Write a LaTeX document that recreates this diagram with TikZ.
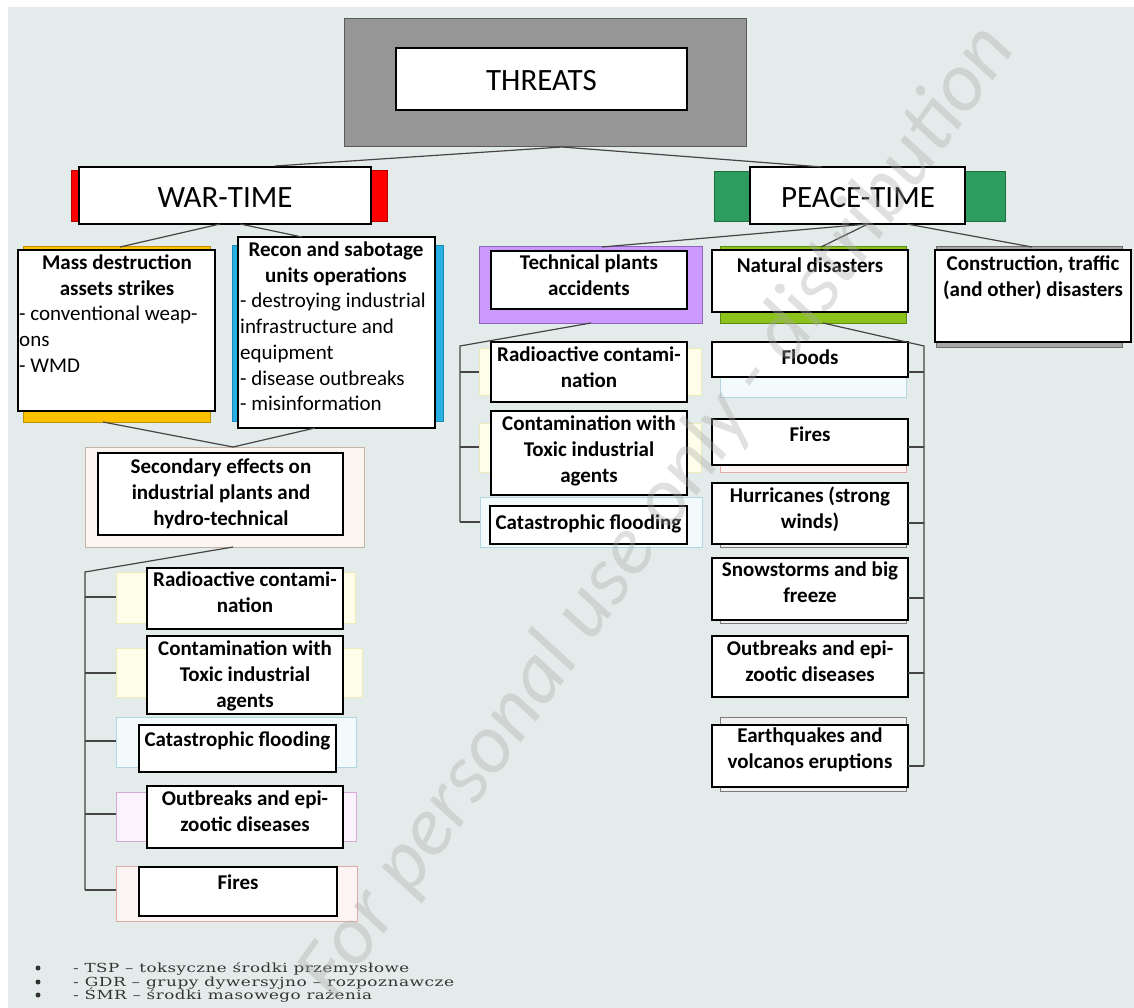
\documentclass[tikz,border=0pt]{standalone}
\usepackage{fontspec}
\setmainfont{Carlito}
\newfontfamily\legfont[LetterSpace=3]{DejaVu Serif}
\usepackage{graphicx}
\definecolor{bgc}{HTML}{E4ECEB}
\definecolor{linec}{HTML}{454545}
\definecolor{tgrayF}{HTML}{969696}\definecolor{tgrayD}{HTML}{5A5A5A}
\definecolor{redF}{HTML}{FF0000}\definecolor{redD}{HTML}{B00000}
\definecolor{pgreenF}{HTML}{2E9B5F}\definecolor{pgreenD}{HTML}{1E6E40}
\definecolor{yelF}{HTML}{FFC000}\definecolor{yelD}{HTML}{C09000}
\definecolor{bluF}{HTML}{29B0E3}\definecolor{bluD}{HTML}{1A88B8}
\definecolor{purF}{HTML}{CC99FF}\definecolor{purD}{HTML}{8E66BB}
\definecolor{ngrF}{HTML}{8CC21C}\definecolor{ngrD}{HTML}{5E8C10}
\definecolor{cgrF}{HTML}{A6A6A6}\definecolor{cgrD}{HTML}{6E6E6E}
\definecolor{secF}{HTML}{FBF7F0}\definecolor{secD}{HTML}{C4B2A2}
\definecolor{ylF}{HTML}{FDFDEA}\definecolor{ylD}{HTML}{EEE9B8}
\definecolor{blF}{HTML}{F2FAFC}\definecolor{blD}{HTML}{B0D6E2}
\definecolor{plF}{HTML}{FBF3FB}\definecolor{plD}{HTML}{D6A9D6}
\definecolor{pkF}{HTML}{FDF5F4}\definecolor{pkD}{HTML}{E3AAA6}
\definecolor{glF}{HTML}{F0F0F0}\definecolor{glD}{HTML}{7A7A7A}
\definecolor{wmc}{HTML}{A8A8A8}
\definecolor{legc}{HTML}{333333}
\newcommand\rbox[6]{\node[#6, anchor=north west, minimum width={#4-#2}, minimum height={#5-#3}] (#1) at (#2,#3) {};}
\newcommand\legline[2]{\resizebox{#1}{\height}{\legfont\fontsize{12.5}{14}\selectfont #2}}
\tikzset{
  wb/.style={draw=black, line width=1.3pt, fill=white, inner sep=0pt, outer sep=0pt},
  bk/.style={line width=1pt, inner sep=0pt, outer sep=0pt},
  conn/.style={draw=linec, line width=1.2pt},
  ttl/.style={font=\fontsize{31}{37}\selectfont, inner sep=0pt, anchor=base},
  hd/.style={font=\fontsize{21}{25.8}\selectfont\bfseries, align=center, inner sep=0pt, anchor=north, execute at begin node={\rule{0pt}{17pt}}},
  ls/.style={font=\fontsize{21}{25.8}\selectfont, align=left, inner sep=0pt, anchor=north west, execute at begin node={\rule{0pt}{17pt}}},
  leg/.style={inner sep=0pt, anchor=base west, text=legc},
  bul/.style={circle, fill=legc, inner sep=0pt, minimum size=5pt},
}
\begin{document}
\begin{tikzpicture}[x=1pt,y=-1pt]
\useasboundingbox (0,0) rectangle (1134,1008);
\fill[bgc] (8,7) rectangle (1134,1008);

% ---------- top ----------
\rbox{tback}{344}{19}{746}{147}{bk, fill=tgrayF, draw=tgrayD}
\rbox{threats}{396}{48}{687}{110}{wb}
\node[ttl] (threatsT) at (541.5,91) {THREATS};

\rbox{warback}{71}{171}{387}{222}{bk, fill=redF, draw=redD}
\rbox{war}{79}{167}{371}{224}{wb}
\node[ttl] (warT) at (225,208) {WAR-TIME};

\rbox{peaceback}{714}{172}{1005}{222}{bk, fill=pgreenF, draw=pgreenD}
\rbox{peace}{750}{167}{965}{224}{wb}
\node[ttl] (peaceT) at (858,208) {PEACE-TIME};

\coordinate (tapex) at (562,147);
\coordinate (warin) at (275,166);
\coordinate (peacein) at (822,167);

% ---------- war-time ----------
\rbox{massback}{23}{247}{210}{422}{bk, fill=yelF, draw=yelD}
\rbox{mass}{18}{250}{215}{411}{wb}
\node[hd] (massH) at (117,255) {Mass destruction\\assets strikes};
\node[ls] (massL) at (19,306) {- conventional weap-\\ons\\- WMD};

\rbox{reconback}{232}{246}{443}{421}{bk, fill=bluF, draw=bluD}
\rbox{recon}{238}{237}{435}{428}{wb}
\node[hd] (reconH) at (336,242) {Recon and sabotage\\units operations};
\node[ls] (reconL) at (240,293) {- destroying industrial\\infrastructure and\\equipment\\- disease outbreaks\\- misinformation};

\rbox{secback}{85}{447}{364}{547}{bk, fill=secF, draw=secD}
\rbox{sec}{98}{453}{343}{535}{wb}
\node[hd] (secT) at (221,459) {Secondary effects on\\industrial plants and\\hydro-technical};

\coordinate (warout1) at (220,224);
\coordinate (warout2) at (240,224);
\coordinate (massin) at (120,247);
\coordinate (reconin) at (302,237);
\coordinate (massout) at (103,422);
\coordinate (reconout) at (315,428);
\coordinate (secin) at (233,447);
\coordinate (secout) at (233,547);
\coordinate (lbus0) at (85,572);
\coordinate (lbus1) at (85,597);
\coordinate (lbus2) at (85,673);
\coordinate (lbus3) at (85,741);
\coordinate (lbus4) at (85,814);
\coordinate (lbus5) at (85,890);

\rbox{rad1back}{116}{572}{355}{623}{bk, fill=ylF, draw=ylD}
\rbox{rad1}{147}{568}{343}{629}{wb}
\node[hd] (rad1T) at (245,572) {Radioactive contami-\\nation};

\rbox{con1back}{116}{648}{362}{697}{bk, fill=ylF, draw=ylD}
\rbox{con1}{147}{636}{343}{714}{wb}
\node[hd] (con1T) at (245,641) {Contamination with\\Toxic industrial\\agents};

\rbox{cat1back}{116}{717}{356}{767}{bk, fill=blF, draw=blD}
\rbox{cat1}{139}{725}{336}{772}{wb}
\node[hd] (cat1T) at (237.5,729) {Catastrophic flooding};

\rbox{out1back}{116}{792}{356}{841}{bk, fill=plF, draw=plD}
\rbox{out1}{147}{786}{343}{848}{wb}
\node[hd] (out1T) at (245,791) {Outbreaks and epi-\\zootic diseases};

\rbox{fir1back}{116}{866}{357}{921}{bk, fill=pkF, draw=pkD}
\rbox{fir1}{139}{867}{337}{916}{wb}
\node[hd] (fir1T) at (238,872) {Fires};

% ---------- peace-time ----------
\rbox{techback}{479}{247}{702}{323}{bk, fill=purF, draw=purD}
\rbox{tech}{491}{251}{687}{309}{wb}
\node[hd] (techT) at (589,255) {Technical plants\\accidents};

\rbox{natback}{720}{247}{906}{323}{bk, fill=ngrF, draw=ngrD}
\rbox{nat}{712}{250}{908}{312}{wb}
\node[hd] (natT) at (810,255) {Natural disasters};

\rbox{consback}{936}{247}{1122}{347}{bk, fill=cgrF, draw=cgrD}
\rbox{cons}{935}{250}{1131}{342}{wb}
\node[hd] (consT) at (1033,256) {Construction, traffic\\(and other) disasters};

\coordinate (peaceout1) at (868,224);
\coordinate (peaceout2) at (907,224);
\coordinate (techin) at (602,247);
\coordinate (natin) at (821,247);
\coordinate (consin) at (1032,247);
\coordinate (techout) at (591,323);
\coordinate (natout) at (823,323);
\coordinate (tbus0) at (460,346);
\coordinate (tbus1) at (460,372);
\coordinate (tbus2) at (460,447);
\coordinate (tbus3) at (460,522);
\coordinate (nbus0) at (924,346);
\coordinate (nbus1) at (924,372);
\coordinate (nbus2) at (924,447);
\coordinate (nbus3) at (924,523);
\coordinate (nbus4) at (924,598);
\coordinate (nbus5) at (924,673);
\coordinate (nbus6) at (924,766);

\rbox{rad2back}{479}{348}{701}{395}{bk, fill=ylF, draw=ylD}
\rbox{rad2}{491}{342}{687}{402}{wb}
\node[hd] (rad2T) at (589,347) {Radioactive contami-\\nation};

\rbox{con2back}{479}{423}{701}{472}{bk, fill=ylF, draw=ylD}
\rbox{con2}{491}{411}{687}{495}{wb}
\node[hd] (con2T) at (589,416) {Contamination with\\Toxic industrial\\agents};

\rbox{cat2back}{480}{497}{702}{547}{bk, fill=blF, draw=blD}
\rbox{cat2}{490}{506}{687}{544}{wb}
\node[hd] (cat2T) at (588.5,512) {Catastrophic flooding};

\rbox{fldback}{720}{342}{906}{397}{bk, fill=blF, draw=blD}
\rbox{fld}{712}{342}{908}{377}{wb}
\node[hd] (fldT) at (810,347) {Floods};

\rbox{fir2back}{720}{419}{906}{472}{bk, fill=pkF, draw=pkD}
\rbox{fir2}{712}{419}{908}{465}{wb}
\node[hd] (fir2T) at (810,424) {Fires};

\rbox{hurback}{720}{483}{906}{547}{bk, fill=glF, draw=glD}
\rbox{hur}{712}{483}{908}{544}{wb}
\node[hd] (hurT) at (810,487) {Hurricanes (strong\\winds)};

\rbox{snowback}{720}{558}{906}{623}{bk, fill=glF, draw=glD}
\rbox{snow}{712}{558}{908}{620}{wb}
\node[hd] (snowT) at (810,562) {Snowstorms and big\\freeze};

\rbox{out2}{712}{636}{908}{697}{wb}
\node[hd] (out2T) at (810,641) {Outbreaks and epi-\\zootic diseases};

\rbox{eqback}{720}{717}{906}{791}{bk, fill=glF, draw=glD}
\rbox{eq}{712}{725}{908}{787}{wb}
\node[hd] (eqT) at (810,728) {Earthquakes and\\volcanos eruptions};

% ---------- connectors ----------
\draw[conn] (tapex) -- (warin);
\draw[conn] (tapex) -- (peacein);
\draw[conn] (warout1) -- (massin);
\draw[conn] (warout2) -- (reconin);
\draw[conn] (massout) -- (secin);
\draw[conn] (reconout) -- (secin);
\draw[conn] (secout) -- (lbus0) -- (lbus5);
\draw[conn] (lbus1) -- (rad1back.west |- lbus1);
\draw[conn] (lbus2) -- (con1back.west |- lbus2);
\draw[conn] (lbus3) -- (cat1back.west |- lbus3);
\draw[conn] (lbus4) -- (out1back.west |- lbus4);
\draw[conn] (lbus5) -- (fir1back.west |- lbus5);

\draw[conn] (peaceout1) -- (techin);
\draw[conn] (peaceout1) -- (natin);
\draw[conn] (peaceout2) -- (consin);
\draw[conn] (techout) -- (tbus0) -- (tbus3);
\draw[conn] (tbus1) -- (rad2back.west |- tbus1);
\draw[conn] (tbus2) -- (con2back.west |- tbus2);
\draw[conn] (tbus3) -- (cat2back.west |- tbus3);
\draw[conn] (natout) -- (nbus0) -- (nbus6);
\draw[conn] (nbus1) -- (fld.east |- nbus1);
\draw[conn] (nbus2) -- (fir2.east |- nbus2);
\draw[conn] (nbus3) -- (hur.east |- nbus3);
\draw[conn] (nbus4) -- (snow.east |- nbus4);
\draw[conn] (nbus5) -- (out2.east |- nbus5);
\draw[conn] (nbus6) -- (eq.east |- nbus6);

% ---------- legend ----------
\node[bul] (b1) at (38,968) {};
\node[bul] (b2) at (38,982) {};
\node[bul] (b3) at (38,995) {};
\node[leg] (leg1) at (73,972) {\legline{336pt}{- TSP – toksyczne środki przemysłowe}};
\node[leg] (leg2) at (73,986) {\legline{381pt}{- GDR – grupy dywersyjno – rozpoznawcze}};
\node[leg] (leg3) at (73,999) {\legline{299pt}{- ŚMR – środki masowego rażenia}};

% ---------- watermark ----------
\node[rotate=54.5, font=\fontsize{84}{84}\selectfont\itshape, text=wmc, opacity=0.35, inner sep=0pt] (wm) at (658,512) {For personal use only - distribution};
\end{tikzpicture}
\end{document}
